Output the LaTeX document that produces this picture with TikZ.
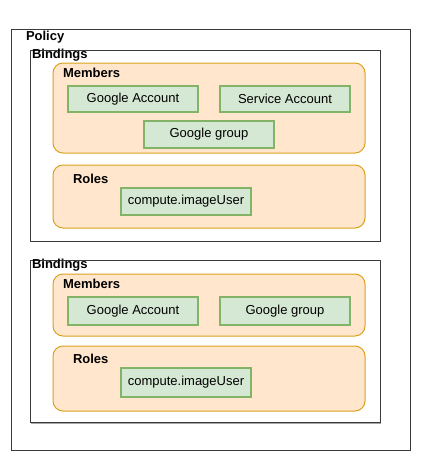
\documentclass[tikz,border=0pt]{standalone}
\usepackage{fontspec}
\setmainfont{Liberation Sans}
\definecolor{orfill}{HTML}{FFE6CC}
\definecolor{ordraw}{HTML}{D9A21F}
\definecolor{grfill}{HTML}{D5E8D4}
\definecolor{grdraw}{HTML}{82B366}
\definecolor{frame}{HTML}{3A3A3A}
\tikzset{
  every node/.style={font=\fontsize{13}{15}\selectfont, inner sep=0pt, outer sep=0pt},
  framebox/.style={draw=frame, line width=1pt, anchor=north west},
  groupbox/.style={draw=ordraw, fill=orfill, line width=1pt, rounded corners=10pt, anchor=north west},
  itembox/.style={draw=grdraw, fill=grfill, line width=1.2pt, anchor=north west, minimum width=130pt},
  lbl/.style={font=\fontsize{13}{15}\selectfont\bfseries, anchor=west},
}
\begin{document}
\begin{tikzpicture}[x=1pt,y=-1pt]
\useasboundingbox (0,0) rectangle (441,471);
\fill[white] (0,0) rectangle (441,471);
% Policy
\node[framebox, minimum width=399pt, minimum height=421pt] (policy) at (11,29) {};
\node[lbl] (policylbl) at (26,37) {Policy};
% Bindings 1
\node[framebox, minimum width=350pt, minimum height=191pt] (bind1) at (30,50) {};
\node[lbl] (bind1lbl) at (32,55) {Bindings};
\node[groupbox, minimum width=312pt, minimum height=90pt] (mem1) at (53,63) {};
\node[lbl] (mem1lbl) at (63,73) {Members};
\node[itembox, minimum height=26pt] (ga1) at (68,86) {};
\node (ga1t) at (ga1.center) {Google Account};
\node[itembox, minimum height=26pt] (sa1) at (220,86) {};
\node (sa1t) at (sa1.center) {Service Account};
\node[itembox, minimum height=27pt] (gg1) at (144,121) {};
\node (gg1t) at (gg1.center) {Google group};
\node[groupbox, minimum width=312pt, minimum height=63pt] (roles1) at (53,165) {};
\node[lbl] (roles1lbl) at (73,179) {Roles};
\node[itembox, minimum height=27pt] (cu1) at (121,188) {};
\node (cu1t) at (cu1.center) {compute.imageUser};
% Bindings 2
\draw[black!35, line width=1.5pt] (31,423) -- (381,423);
\node[framebox, minimum width=350pt, minimum height=162pt] (bind2) at (30,260) {};
\node[lbl] (bind2lbl) at (32,265) {Bindings};
\node[groupbox, minimum width=312pt, minimum height=62pt] (mem2) at (53,274) {};
\node[lbl] (mem2lbl) at (63,284) {Members};
\node[itembox, minimum height=28pt] (ga2) at (68,297) {};
\node (ga2t) at (ga2.center) {Google Account};
\node[itembox, minimum height=28pt] (gg2) at (220,297) {};
\node (gg2t) at (gg2.center) {Google group};
\node[groupbox, minimum width=312pt, minimum height=65pt] (roles2) at (53,346) {};
\node[lbl] (roles2lbl) at (73,359) {Roles};
\node[itembox, minimum height=29pt] (cu2) at (121,368) {};
\node (cu2t) at (cu2.center) {compute.imageUser};
\end{tikzpicture}
\end{document}
